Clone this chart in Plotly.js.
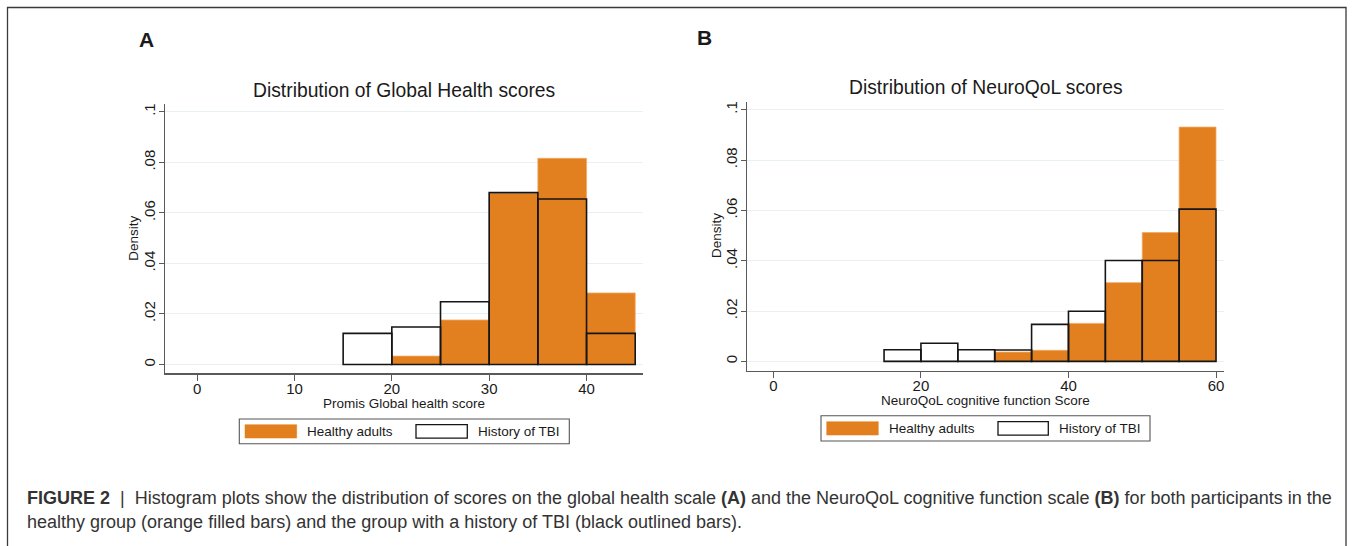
<!DOCTYPE html>
<html>
<head>
<meta charset="utf-8">
<script src="https://cdn.plot.ly/plotly-3.0.1.min.js"></script>
<style>html,body{margin:0;padding:0;background:#fff;}#chart{width:1354px;height:546px;}</style>
</head>
<body>
<div id="chart"></div>
<script>
// ---- Data ----
const binStartsA = [15, 20, 25, 30, 35, 40];
const healthyA   = [0, 0.0033, 0.0176, 0.0677, 0.0816, 0.0283];
const tbiA       = [0.0123, 0.0148, 0.0248, 0.0680, 0.0655, 0.0123];

const binStartsB = [15, 20, 25, 30, 35, 40, 45, 50, 55];
const healthyB   = [0, 0, 0, 0.0037, 0.0044, 0.0151, 0.0313, 0.0512, 0.0931];
const tbiB       = [0.0046, 0.0072, 0.0046, 0.0045, 0.0147, 0.0199, 0.0401, 0.0401, 0.0605];

const binWidth = 5;
const yTickVals = [0, 0.02, 0.04, 0.06, 0.08, 0.1];
const yTickText = ["0", ".02", ".04", ".06", ".08", ".1"];
const xTickValsA = [0, 10, 20, 30, 40];
const xTickValsB = [0, 20, 40, 60];
const seriesNames = ["Healthy adults", "History of TBI"];
const panelTitles = ["Distribution of Global Health scores", "Distribution of NeuroQoL scores"];
const xTitles = ["Promis Global health score", "NeuroQoL cognitive function Score"];
const yTitle = "Density";
const captionLine1 = "<b>FIGURE 2</b>  |  Histogram plots show the distribution of scores on the global health scale <b>(A)</b> and the NeuroQoL cognitive function scale <b>(B)</b> for both participants in the";
const captionLine2 = "healthy group (orange filled bars) and the group with a history of TBI (black outlined bars).";

// ---- Style ----
const W = 1354, H = 546;
const px = v => v / W;
const py = v => 1 - v / H;
const ORANGE = '#E27F1F';
const FONT = 'Liberation Sans, Arial, Helvetica, sans-serif';
const TXT = '#1a1a1a';

function healthyTrace(x, y, xa, ya) {
  return {type: 'bar', name: seriesNames[0], x: x, y: y, width: binWidth, offset: 0,
    xaxis: xa, yaxis: ya, showlegend: false,
    marker: {color: ORANGE, line: {color: '#F0A865', width: 0.8}}, hoverinfo: 'x+y'};
}
function tbiTrace(x, y, xa, ya) {
  return {type: 'bar', name: seriesNames[1], x: x, y: y, width: binWidth, offset: 0,
    xaxis: xa, yaxis: ya, showlegend: false,
    marker: {color: 'rgba(0,0,0,0)', line: {color: '#151515', width: 1.6}}, hoverinfo: 'x+y'};
}

const data = [
  healthyTrace(binStartsA, healthyA, 'x', 'y'),
  tbiTrace(binStartsA, tbiA, 'x', 'y'),
  healthyTrace(binStartsB, healthyB, 'x2', 'y2'),
  tbiTrace(binStartsB, tbiB, 'x2', 'y2')
];

function xAxis(domain, range, tickvals, anchor) {
  return {domain: domain, range: range, anchor: anchor, tickmode: 'array', tickvals: tickvals,
    ticktext: tickvals.map(String), showline: true, linecolor: '#5a5a5a', linewidth: 1.3,
    ticks: 'outside', ticklen: 6, tickcolor: '#5a5a5a', tickwidth: 1, showgrid: false, zeroline: false,
    ticklabelstandoff: -5,
    tickfont: {family: FONT, size: 15, color: TXT}};
}
function yAxis(domain, range, anchor) {
  return {domain: domain, range: range, anchor: anchor, tickmode: 'array', tickvals: yTickVals,
    ticktext: yTickText, tickangle: -90, showline: true, linecolor: '#5a5a5a', linewidth: 1.3,
    ticks: 'outside', ticklen: 5, tickcolor: '#5a5a5a', tickwidth: 1,
    ticklabelstandoff: -2,
    showgrid: true, gridcolor: '#E8F0F1', gridwidth: 1, zeroline: false,
    tickfont: {family: FONT, size: 15, color: TXT}};
}

const shapes = [];
const annotations = [];
function rectP(x0, y0, x1, y1, fill, line, lw) {
  shapes.push({type: 'rect', xref: 'paper', yref: 'paper', x0: px(x0), x1: px(x1), y0: py(y1), y1: py(y0),
    fillcolor: fill, line: {color: line, width: lw}});
}
function textP(x, y, text, size, anchor, extra) {
  annotations.push(Object.assign({xref: 'paper', yref: 'paper', x: px(x), y: py(y), text: text,
    showarrow: false, xanchor: anchor, yanchor: 'middle',
    font: {family: FONT, size: size, color: TXT}}, extra || {}));
}

// outer frame
rectP(7.5, 7.5, 1346, 580, 'rgba(0,0,0,0)', '#3a3a3a', 1.3);

// legends
function legend(bx0, by0, bx1, by1, sw0, sw1, t1, sw2a, sw2b, t2) {
  rectP(bx0, by0, bx1, by1, '#ffffff', '#555555', 1.1);
  const cy = (by0 + by1) / 2;
  rectP(sw0, cy - 6.7, sw1, cy + 6.7, ORANGE, ORANGE, 0.5);
  rectP(sw2a, cy - 6.7, sw2b, cy + 6.7, '#ffffff', '#151515', 1.3);
  textP(t1, cy, seriesNames[0], 13.5, 'left');
  textP(t2, cy, seriesNames[1], 13.5, 'left');
}
legend(239.3, 419, 569.3, 443.7, 245, 296.7, 305, 416, 467.3, 476);
legend(821, 415.7, 1150, 441, 826.7, 878.3, 886.5, 998, 1048.3, 1056.5);

// axis titles
textP(404, 403.5, xTitles[0], 13.5, 'center');
textP(985, 400.5, xTitles[1], 13.5, 'center');
textP(133.3, 238.5, yTitle, 13.5, 'center', {textangle: -90});
textP(716, 236, yTitle, 13.5, 'center', {textangle: -90});

// panel letters and titles
textP(146, 40, '<b>A</b>', 21, 'center');
textP(704.5, 38, '<b>B</b>', 21, 'center');
textP(404, 91, panelTitles[0], 19.3, 'center');
textP(986, 88, panelTitles[1], 19.3, 'center');

// caption
textP(25, 498, captionLine1, 18, 'left', {font: {family: FONT, size: 18, color: '#333333'}});
textP(25, 522, captionLine2, 18, 'left', {font: {family: FONT, size: 18, color: '#333333'}});

const layout = {
  width: W, height: H,
  margin: {l: 0, r: 0, t: 0, b: 0},
  paper_bgcolor: '#ffffff', plot_bgcolor: '#ffffff',
  barmode: 'overlay', bargap: 0,
  showlegend: false,
  xaxis: xAxis([px(165), px(643)], [-3.3, 45.8], xTickValsA, 'y'),
  yaxis: yAxis([py(373.3), py(104)], [-0.0035, 0.1031], 'x'),
  xaxis2: xAxis([px(747), px(1223.6)], [-3.58, 61.03], xTickValsB, 'y2'),
  yaxis2: yAxis([py(370.7), py(101.7)], [-0.0037, 0.1032], 'x2'),
  shapes: shapes,
  annotations: annotations
};

Plotly.newPlot('chart', data, layout, {displayModeBar: false, staticPlot: true});
</script>
</body>
</html>
